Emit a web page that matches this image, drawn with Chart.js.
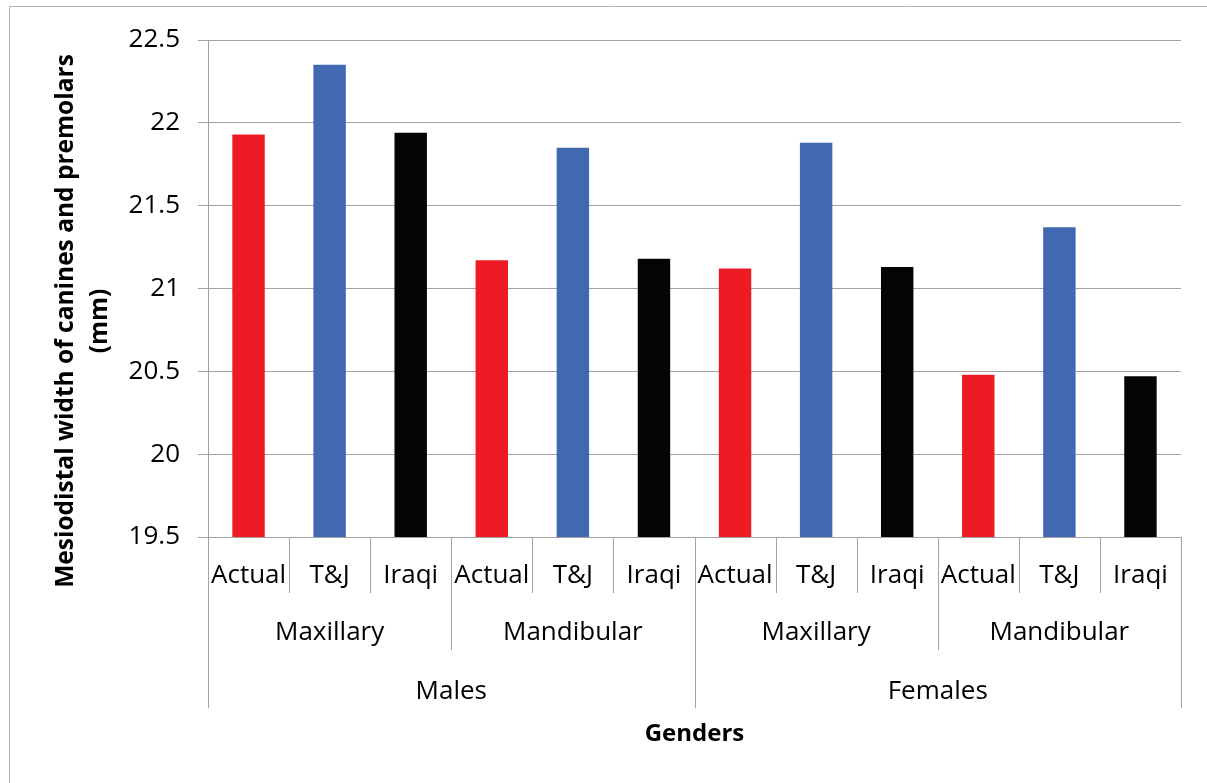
<!DOCTYPE html>
<html>
<head>
<meta charset="utf-8">
<script src="https://cdn.jsdelivr.net/npm/chart.js@4"></script>
<style>
  html, body { margin: 0; padding: 0; background: #fff; }
  canvas { display: block; }
</style>
</head>
<body>
<canvas id="chart" width="1207" height="783"></canvas>
<script>
// Category levels (innermost first) and the measured widths, in the same order
const methods = ['Actual', 'T&J', 'Iraqi'];
const jaws = ['Maxillary', 'Mandibular'];
const genders = ['Males', 'Females'];
const widths = [21.93, 22.35, 21.94, 21.17, 21.85, 21.18, 21.12, 21.88, 21.13, 20.48, 21.37, 20.47];
const yTicks = [19.5, 20, 20.5, 21, 21.5, 22, 22.5];
const methodColors = ['#ED1C24', '#4169B1', '#030504'];
const yTitle = ['Mesiodistal width of canines and premolars', '(mm)'];
const xTitle = 'Genders';

const GRID = '#a2a2a2';
const FONT = "'Open Sans', 'Noto Sans', sans-serif";

// One label per bar: gender / jaw / method
const labels = [];
const barColors = [];
genders.forEach(g => jaws.forEach(j => methods.forEach((m, mi) => {
  labels.push(g + ' ' + j + ' ' + m);
  barColors.push(methodColors[mi]);
})));

// Multi-level category axis drawn under the plot area
const categoryAxis = {
  id: 'categoryAxis',
  afterDraw(chart) {
    const { ctx, chartArea, scales: { x } } = chart;
    const n = chart.data.labels.length;
    const step = (x.getPixelForValue(n - 1) - x.getPixelForValue(0)) / (n - 1);
    const edge = i => x.getPixelForValue(0) - step / 2 + i * step;
    const base = chartArea.bottom;
    const rows = [
      { size: 1, names: methods, lineEnd: base + 56, textY: base + 46 },
      { size: methods.length, names: jaws, lineEnd: base + 113, textY: base + 103 },
      { size: methods.length * jaws.length, names: genders, lineEnd: base + 171, textY: base + 162 }
    ];

    ctx.save();
    ctx.strokeStyle = GRID;
    ctx.lineWidth = 1;
    for (let i = 0; i <= n; i++) {
      let end = base;
      rows.forEach(r => { if (i % r.size === 0) end = Math.max(end, r.lineEnd); });
      const px = Math.round(edge(i)) + 0.5;
      ctx.beginPath();
      ctx.moveTo(px, base);
      ctx.lineTo(px, end);
      ctx.stroke();
    }

    ctx.fillStyle = '#000';
    ctx.textAlign = 'center';
    ctx.textBaseline = 'alphabetic';
    ctx.font = '26px ' + FONT;
    rows.forEach(r => {
      const groups = n / r.size;
      for (let g = 0; g < groups; g++) {
        const cx = (edge(g * r.size) + edge((g + 1) * r.size)) / 2;
        ctx.fillText(r.names[g % r.names.length], cx, r.textY);
      }
    });

    // Axis titles
    ctx.font = 'bold 24px ' + FONT;
    ctx.fillText(xTitle, (chartArea.left + chartArea.right) / 2, base + 204);

    ctx.font = 'bold 24.5px ' + FONT;
    const titleX = [73, 107];
    yTitle.forEach((line, k) => {
      ctx.save();
      ctx.translate(titleX[k], 321);
      ctx.rotate(-Math.PI / 2);
      ctx.fillText(line, 0, 0);
      ctx.restore();
    });

    // Frame around the chart
    ctx.strokeStyle = '#b4b4b4';
    ctx.beginPath();
    ctx.moveTo(9.5, chart.height);
    ctx.lineTo(9.5, 6.5);
    ctx.lineTo(chart.width, 6.5);
    ctx.stroke();
    ctx.restore();
  }
};

new Chart(document.getElementById('chart'), {
  type: 'bar',
  data: {
    labels: labels,
    datasets: [{
      data: widths,
      backgroundColor: barColors,
      borderWidth: 0,
      barPercentage: 0.4,
      categoryPercentage: 1.0
    }]
  },
  options: {
    responsive: false,
    animation: false,
    layout: { padding: { top: 40, right: 26, bottom: 0, left: 0 } },
    plugins: {
      legend: { display: false },
      tooltip: { enabled: false }
    },
    scales: {
      x: {
        grid: { display: false },
        border: { display: false },
        ticks: { display: false },
        afterFit(scale) { scale.height = 246; }
      },
      y: {
        min: yTicks[0],
        max: yTicks[yTicks.length - 1],
        afterBuildTicks(scale) { scale.ticks = yTicks.map(v => ({ value: v })); },
        afterFit(scale) { scale.width = 208; },
        grid: { color: GRID, lineWidth: 1, drawTicks: true, tickLength: 10 },
        border: { display: true, color: GRID, width: 1 },
        ticks: {
          color: '#000',
          padding: 18,
          font: { family: FONT, size: 26 },
          callback: v => String(v)
        }
      }
    }
  },
  plugins: [categoryAxis]
});
</script>
</body>
</html>
